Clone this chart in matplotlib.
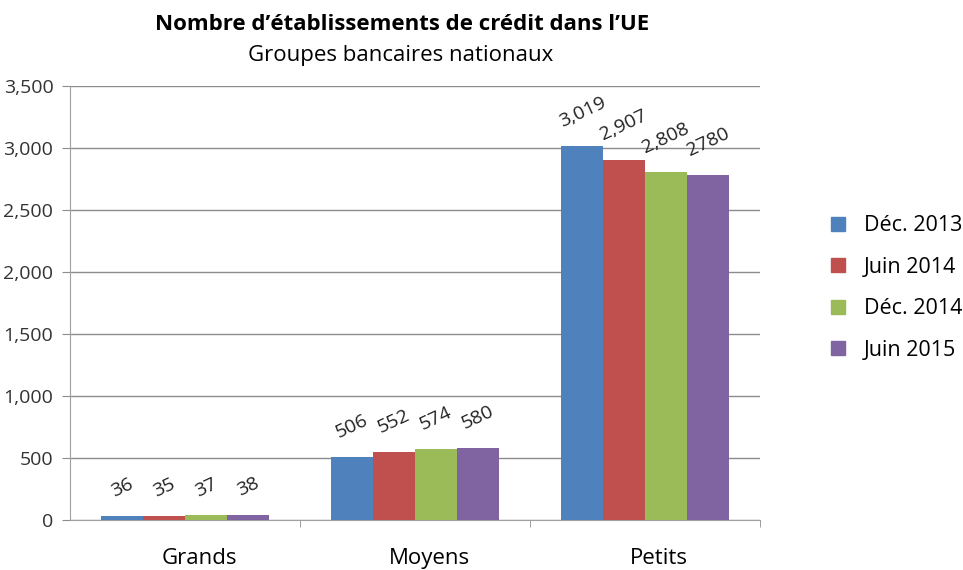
import matplotlib.pyplot as plt
import matplotlib.transforms as mtransforms
import numpy as np

plt.rcParams['font.family'] = ['Open Sans', 'DejaVu Sans']

categories = ["Grands", "Moyens", "Petits"]
series = ["Déc. 2013", "Juin 2014", "Déc. 2014", "Juin 2015"]
values = [
    [36, 506, 3019],
    [35, 552, 2907],
    [37, 574, 2808],
    [38, 580, 2780],
]
value_labels = [
    ["36", "506", "3,019"],
    ["35", "552", "2,907"],
    ["37", "574", "2,808"],
    ["38", "580", "2780"],
]
colors = ["#4F81BD", "#C0504D", "#9BBB59", "#8064A2"]

fig = plt.figure(figsize=(9.63, 5.7), dpi=100)
ax = fig.add_axes([70/963, 1-520/570, 690/963, 434/570])

x = np.arange(len(categories))
w = 0.182
for i, s in enumerate(series):
    xs = x + (i - 1.5) * w
    ax.bar(xs, values[i], width=w, color=colors[i], label=s, zorder=3)
    for xi, v, lab in zip(xs, values[i], value_labels[i]):
        ax.annotate(lab, (xi, v), xytext=(0, 11), textcoords="offset points",
                    rotation=25, ha="center", va="bottom",
                    fontsize=14, color="#222222")

ax.set_xlim(-0.5, 2.5)
ax.set_ylim(0, 3500)
ax.set_yticks(np.arange(0, 3501, 500))
ax.set_yticklabels([f"{v:,}" for v in range(0, 3501, 500)], fontsize=14, color="#333333")
ax.yaxis.grid(True, color="#8c8c8c", linewidth=1, zorder=0)
ax.set_xticks(x)
ax.set_xticklabels(categories, fontsize=16)
ax.set_xticks([0.5, 1.5, 2.5], minor=True)
ax.tick_params(axis="x", which="major", length=0, pad=20)
ax.tick_params(axis="x", which="minor", length=5, color="#8c8c8c")
ax.tick_params(axis="y", length=6, color="#8c8c8c", pad=6)
shift = mtransforms.ScaledTranslation(14/100, 0, fig.dpi_scale_trans)
for lab in ax.get_xticklabels():
    lab.set_transform(lab.get_transform() + shift)
for sp in ["top", "right"]:
    ax.spines[sp].set_visible(False)
ax.spines["left"].set_color("#a0a0a0")
ax.spines["bottom"].set_color("#a0a0a0")

fig.text(402/963, 1-25/570, "Nombre d’établissements de crédit dans l’UE",
         ha="center", va="center", fontsize=16, fontweight="bold")
fig.text(401/963, 1-56/570, "Groupes bancaires nationaux",
         ha="center", va="center", fontsize=16)

handles = [plt.Line2D([], [], marker="s", linestyle="", color=c, markersize=10)
           for c in colors]
fig.legend(handles, series, loc="center left", bbox_to_anchor=(808/963, 1-288/570),
           frameon=False, fontsize=15.5, labelspacing=0.95, handletextpad=0.7,
           handlelength=1.0)

plt.savefig("out.png", dpi=100)
